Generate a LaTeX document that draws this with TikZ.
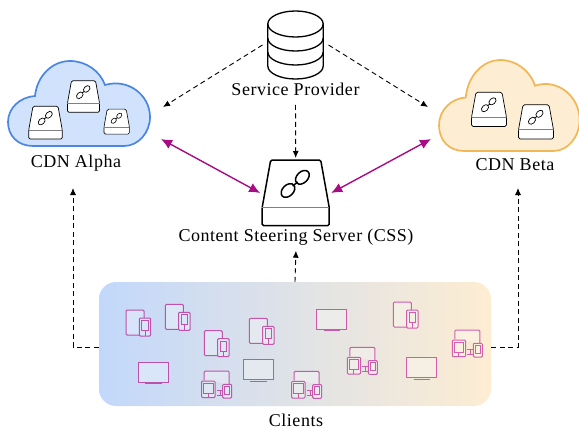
\documentclass[tikz,border=0pt]{standalone}
\usepackage{fontspec}
\setmainfont{Liberation Serif}[LetterSpace=3]
\usetikzlibrary{positioning,arrows.meta}

\definecolor{linkpurple}{HTML}{A90A85}
\definecolor{cloudblue}{HTML}{D1E3FC}
\definecolor{edgeblue}{HTML}{4A86E2}
\definecolor{cloudcream}{HTML}{FDEDD2}
\definecolor{edgecream}{HTML}{F1B655}
\definecolor{devcool}{HTML}{B84FA8}
\definecolor{devwarm}{HTML}{D860AC}
\definecolor{clientcool}{HTML}{C2D8FB}
\definecolor{clientwarm}{HTML}{FDEDD2}

\tikzset{
  iconbox/.style={minimum width=56,minimum height=68,inner sep=0,outer sep=5},
  probe/.style={-{Latex[length=7pt,width=6pt]},dash pattern=on 5pt off 3.5pt,line width=.9pt},
  steer/.style={{Latex[length=11pt,width=10pt]}-{Latex[length=11pt,width=10pt]},line width=1.4pt,color=linkpurple},
  % colours of a device follow the gradient under it
  device/.style={draw=devwarm!#1!devcool,fill=clientwarm!#1!clientcool!72!white,line width=1pt},
  pics/server/.style={code={
    \draw[fill=white,rounded corners=1.5] (-25,-33) -- (25,-33) -- (33.5,14.3) -- (33.5,32.7) -- (-33.5,32.7) -- (-33.5,14.3) -- cycle;
    \draw[gray,very thin] (-33.5,14.3) -- (33.5,14.3);
    \draw (-7.7,-2.5) ellipse [x radius=8,y radius=5.5,rotate=45];
    \draw (6.7,-15.7) ellipse [x radius=8,y radius=5.5,rotate=45];
    \draw (-3,-7) -- (2,-11);
  }},
  pics/puffcloud/.style={code={
    \draw[pic actions] (25,85) .. controls (10,85) and (0,75) .. (0,61)
      .. controls (0,47) and (12,36) .. (27,35)
      .. controls (29,15) and (44,0) .. (62,0)
      .. controls (78,0) and (92,10) .. (97,24)
      .. controls (120,17) and (142,34) .. (142,56)
      .. controls (142,72) and (130,85) .. (116,85) -- cycle;
  }},
  pics/datastack/.style={code={
    \draw[fill=white] (-27.7,-21) arc [start angle=180,end angle=-180,x radius=27.7,y radius=13];
    \draw (-27.7,-21) -- (-27.7,21) arc [start angle=180,end angle=0,x radius=27.7,y radius=13] -- (27.7,-21);
    \foreach \h in {-7,7}
      \draw (-27.7,\h) arc [start angle=180,end angle=0,x radius=27.7,y radius=13];
  }},
  pics/tabphone/.style={code={
    \draw[pic actions,rounded corners=1.2] (13.3,25) -- (0,25) -- (0,0) -- (18,0) -- (18,8);
    \draw[pic actions,rounded corners=1] (13.3,8) rectangle (24.7,26);
    \draw[pic actions] (15.7,10.5) rectangle (22.3,20.5);
    \draw[pic actions] (19,20.5) -- (19,26);
  }},
  pics/screen/.style={code={
    \draw[pic actions] (0,0) rectangle (30,20);
    \draw[pic actions] (7,21.7) -- (23.5,21.7);
  }},
  pics/combo/.style={code={
    \draw[pic actions,rounded corners=1.2] (2.5,9) -- (2.5,0) -- (27.5,0) -- (27.5,13);
    \draw[pic actions,rounded corners=1] (0,10) rectangle (13.3,26.7);
    \draw[pic actions] (2,12.5) rectangle (11.3,22.5);
    \draw[pic actions] (6.6,22.5) -- (6.6,26.7);
    \draw[pic actions,rounded corners=1] (21,13.3) rectangle (30,27);
    \draw[pic actions] (22.8,15.5) rectangle (28.2,23.5);
    \draw[pic actions] (15,19) -- (20.5,19) (15,24) -- (20.5,24) (18.5,19) -- (18.5,24);
  }},
}

\begin{document}
\begin{tikzpicture}[>=latex, x=1pt, y=-1pt, every node/.style={align=center,font=\fontsize{18}{20}\selectfont}]
  \useasboundingbox (0,0) rectangle (579,428);

  % clouds
  \pic[draw=edgeblue,fill=cloudblue,line width=1.7pt] at (8,61) {puffcloud};
  \pic[draw=edgecream,fill=cloudcream,line width=1.7pt,xscale=.99,yscale=1.07] at (439,60) {puffcloud};
  \pic[scale=.5,line width=.7pt] at (45.5,122.7) {server};
  \pic[scale=.48,line width=.7pt] at (83.5,96.5) {server};
  \pic[scale=.38,line width=.6pt] at (116.7,121.7) {server};
  \pic[scale=.52,line width=.7pt] at (489,109.5) {server};
  \pic[scale=.52,line width=.7pt] at (536,122) {server};
  \node (alphalbl) at (76,163) {CDN Alpha};
  \node (betalbl) at (515,165) {CDN Beta};
  \coordinate (alphain) at (163,107);
  \coordinate (alphaport) at (161,139);
  \coordinate (alphaup) at (73,188);
  \coordinate (betain) at (428,107);
  \coordinate (betaport) at (431,139);
  \coordinate (betaup) at (518,188);

  % provider and steering server
  \node[iconbox] (db) at (295.5,45) {};
  \pic[line width=1.3pt] at (db) {datastack};
  \node (provlbl) at (295.5,89) {Service Provider};
  \node[iconbox,minimum width=67,minimum height=66,outer sep=2] (css) at (295.7,193) {};
  \pic[line width=1.5pt] at (css) {server};
  \node (csslbl) at (296,237) {Content Steering Server (CSS)};

  % clients
  \node[minimum width=392,minimum height=124,inner sep=0,rounded corners=17,left color=clientcool,right color=clientwarm] (clients) at (295,344) {};
  \foreach \px/\py/\pct in {126/310/9,165.3/304.3/19,204.3/330.7/29,249.3/318.3/40,393.3/302/77}
    \pic[device=\pct] at (\px,\py) {tabphone};
  \foreach \px/\py/\pct in {243.2/359.6/40,138.3/362/14,316.7/309/59,406.7/357.3/82}
    \pic[device=\pct] at (\px,\py) {screen};
  \foreach \px/\py/\pct in {347.3/347.3/67,291.7/371.3/53,201.7/371/30,452.3/330/94}
    \pic[device=\pct] at (\px,\py) {combo};
  \node[inner sep=0] (clientlbl) at (296,420) {Clients};

  % connectors
  \draw[probe] (db.west) -- (alphain);
  \draw[probe] (db.east) -- (betain);
  \draw[probe,shorten <=6pt] (provlbl.south) -- (css.north);
  \draw[steer] (alphaport) -- (css.west);
  \draw[steer] (betaport) -- (css.east);
  \draw[probe,shorten >=2pt] (clients.north) -- (csslbl.south);
  \draw[probe] ([yshift=-3]clients.west) -| (alphaup);
  \draw[probe] ([yshift=-3]clients.east) -| (betaup);
\end{tikzpicture}
\end{document}
